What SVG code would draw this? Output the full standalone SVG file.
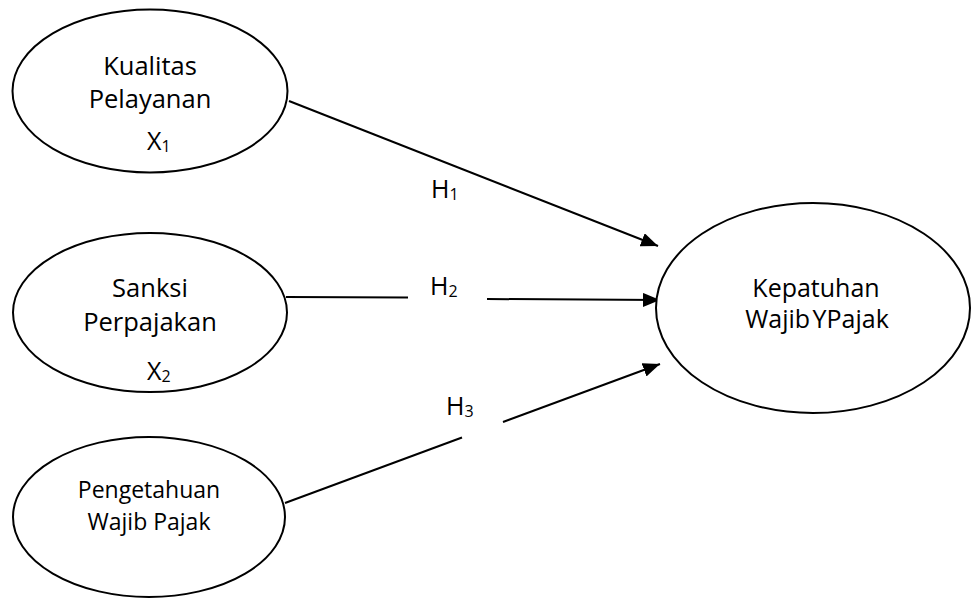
<svg xmlns="http://www.w3.org/2000/svg" width="971" height="599" viewBox="0 0 971 599">
<style>
.node ellipse{fill:#fff;stroke:#000;stroke-width:2}
.t{font-family:"Open Sans","Liberation Sans",sans-serif;font-size:25.5px;fill:#000;text-anchor:middle}
.s{font-family:"Open Sans","Liberation Sans",sans-serif;font-size:25px;fill:#000}
.sub{font-size:16px}
.conn line{stroke:#000;stroke-width:2}
</style>
<defs>
<marker id="arr" markerUnits="userSpaceOnUse" markerWidth="18" markerHeight="14" refX="17" refY="7" orient="auto">
<path d="M0,0 L17,7 L0,14 z" fill="#000"/>
</marker>
</defs>
<rect width="971" height="599" fill="#fff"/>
<g id="connectors" class="conn">
<line x1="289" y1="101" x2="658" y2="246" marker-end="url(#arr)"/>
<line x1="286" y1="297" x2="408" y2="297.5"/>
<line x1="487" y1="299" x2="660" y2="300" marker-end="url(#arr)"/>
<line x1="285" y1="503" x2="462" y2="437.5"/>
<line x1="503" y1="422" x2="660" y2="364" marker-end="url(#arr)"/>
</g>
<g id="node-x1" class="node">
<ellipse cx="150" cy="91" rx="137.5" ry="81.5"/>
<text class="t" x="150" y="75">Kualitas</text>
<text class="t" x="150" y="108">Pelayanan</text>
<text class="s" x="147" y="150">X<tspan class="sub" dy="2">1</tspan></text>
</g>
<g id="node-x2" class="node">
<ellipse cx="150" cy="312.5" rx="137" ry="79.5"/>
<text class="t" x="150" y="297">Sanksi</text>
<text class="t" x="150" y="331">Perpajakan</text>
<text class="s" x="147" y="380">X<tspan class="sub" dy="2">2</tspan></text>
</g>
<g id="node-x3" class="node">
<ellipse cx="149" cy="517" rx="136" ry="80"/>
<text class="t" x="149" y="498" style="font-size:23px">Pengetahuan</text>
<text class="t" x="149" y="530" style="font-size:23px">Wajib Pajak</text>
</g>
<g id="node-y" class="node">
<ellipse cx="813" cy="308" rx="157" ry="105"/>
<text class="t" x="816" y="297" style="font-size:25px">Kepatuhan</text>
<text class="t" x="817" y="328" style="font-size:25px;word-spacing:-4px">Wajib YPajak</text>
</g>
<g id="labels">
<text class="s" x="431" y="198">H<tspan class="sub" dy="2">1</tspan></text>
<text class="s" x="430" y="295">H<tspan class="sub" dy="2">2</tspan></text>
<text class="s" x="446" y="415">H<tspan class="sub" dy="2">3</tspan></text>
</g>
</svg>
